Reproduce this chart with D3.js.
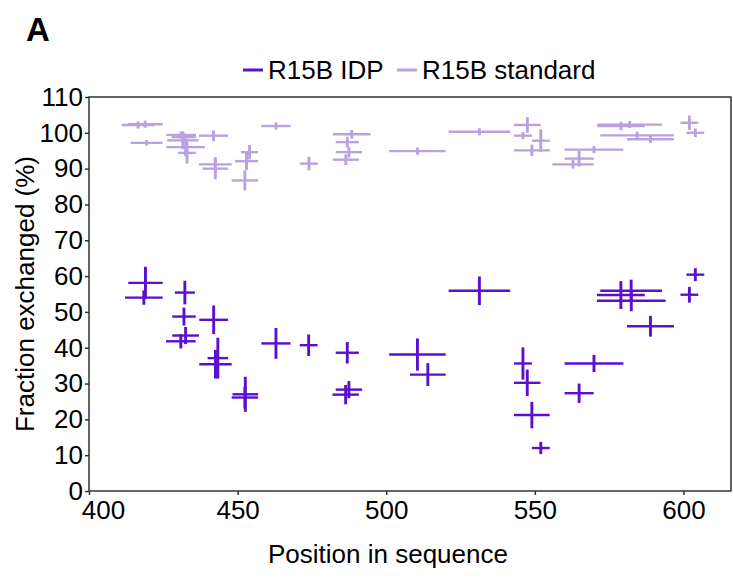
<!DOCTYPE html>
<html lang="en">
	<head>
		<meta charset="utf-8">
		<title>R15B exchange</title>
		<script type="text/javascript" src="https://cdn.jsdelivr.net/npm/d3@7"></script>
		<style type="text/css">
			body { margin: 0; background: #fff; }
			svg { font-family: "Liberation Sans", Arial, sans-serif; }
			.axis path, .axis line { stroke: #333; stroke-width: 1.5; }
			.axis text { font-size: 26px; fill: #000; }
		</style>
	</head>
	<body>
		<script type="text/javascript">

			//Width and height
			let w = 733;
			let h = 580;
			let margin = {top: 97, right: 2, bottom: 89, left: 89};

			//Peptide ranges (start / end residue), fraction exchanged and its error
			let idpStart    = [413.2, 412.1, 428.9, 428.0, 437.1, 428.0, 425.9, 439.9, 437.1, 458.0, 470.9, 483.0, 483.0, 481.9, 448.3, 448.0, 521.0, 501.0, 508.0, 543.0, 543.0, 543.0, 549.0, 560.0, 560.0, 581.0, 572.0, 570.9, 570.9, 601.0, 599.0];
			let idpEnd      = [424.8, 424.8, 435.6, 435.9, 446.8, 437.0, 435.9, 446.8, 448.0, 467.8, 476.9, 490.8, 491.9, 490.8, 456.9, 456.9, 541.7, 520.0, 520.0, 549.0, 551.9, 555.0, 555.0, 579.8, 569.8, 596.8, 592.8, 587.0, 594.0, 607.0, 605.0];
			let idpFraction = [58.1, 54.0, 55.4, 48.7, 47.8, 43.4, 41.8, 37.1, 35.4, 41.2, 40.7, 38.6, 28.3, 26.9, 27.0, 26.1, 55.9, 38.1, 32.5, 35.6, 30.2, 21.2, 12.0, 35.6, 27.3, 46.0, 55.9, 54.7, 53.1, 60.4, 54.8];
			let idpError    = [4.5, 2.0, 3.3, 2.5, 4.0, 2.4, 2.0, 5.7, 4.0, 4.3, 3.0, 3.0, 2.4, 2.7, 4.9, 3.0, 4.0, 4.5, 3.2, 4.5, 3.7, 3.7, 1.7, 2.4, 2.7, 2.9, 3.1, 3.9, 2.9, 1.8, 2.2];

			let stdStart    = [411.0, 413.0, 414.0, 426.0, 427.8, 426.3, 426.0, 430.0, 437.0, 437.0, 438.2, 451.1, 449.1, 448.0, 458.0, 471.0, 482.1, 483.0, 483.0, 482.0, 501.0, 521.0, 543.0, 543.0, 549.0, 543.0, 560.0, 560.0, 555.9, 571.0, 571.0, 572.0, 581.0, 599.0, 601.0];
			let stdEnd      = [422.0, 424.8, 424.8, 436.0, 436.0, 436.8, 439.0, 436.0, 446.8, 448.0, 446.8, 456.9, 456.9, 456.9, 467.8, 477.0, 494.7, 490.8, 491.9, 490.8, 520.0, 541.7, 552.0, 549.0, 555.0, 555.0, 579.8, 569.8, 569.8, 592.8, 587.0, 596.8, 596.8, 605.0, 607.0];
			let stdFraction = [102.2, 102.4, 97.2, 99.4, 98.8, 97.9, 96.0, 94.4, 99.2, 91.2, 90.0, 94.6, 92.1, 86.7, 101.9, 91.4, 99.6, 97.4, 94.6, 92.5, 94.9, 100.3, 102.2, 99.2, 97.8, 95.1, 95.3, 92.8, 91.2, 102.3, 101.9, 99.3, 98.2, 102.8, 100.0];
			let stdError    = [1.0, 1.0, 0.8, 1.0, 1.0, 2.5, 2.5, 3.0, 1.5, 2.0, 3.0, 2.0, 2.5, 2.8, 1.0, 1.9, 1.2, 1.5, 1.5, 1.5, 1.0, 1.0, 2.2, 1.0, 3.2, 1.6, 1.0, 2.2, 1.2, 1.0, 1.2, 1.0, 1.0, 2.0, 1.2];

			let xTicks = [400, 450, 500, 550, 600];
			let yTicks = [0, 10, 20, 30, 40, 50, 60, 70, 80, 90, 100, 110];

			let idpColor = "#5b0fcf";
			let stdColor = "#b9a2e0";

			//Build row objects for each series
			let makeRows = (s, e, f, err)=> s.map((d, i)=> {
				return { start: d, end: e[i], value: f[i], error: err[i] };
			});
			let idpRows = makeRows(idpStart, idpEnd, idpFraction, idpError);
			let stdRows = makeRows(stdStart, stdEnd, stdFraction, stdError);

			let xScale = d3.scaleLinear()
				.domain([400, 616])
				.range([margin.left, w - margin.right]);

			let yScale = d3.scaleLinear()
				.domain([0, 110])
				.range([h - margin.bottom, margin.top]);

			//Create SVG element
			let svg = d3.select("body")
						.append("svg")
						.attr("width", w)
						.attr("height", h);

			//Panel letter
			svg.append("text")
				.attr("x", 26)
				.attr("y", 41)
				.style("font-size", "33px")
				.style("font-weight", "bold")
				.text("A");

			//Crosses: horizontal bar = peptide span, vertical bar = error
			let drawSeries = (rows, color)=> {
				let g = svg.append("g");
				g.selectAll("line.hbar")
					.data(rows)
					.enter()
					.append("line")
					.attr("class", "hbar")
					.attr("stroke", color)
					.attr("stroke-width", 2.4)
					.attr("x1", (d)=> xScale(d.start))
					.attr("x2", (d)=> xScale(d.end))
					.attr("y1", (d)=> yScale(d.value))
					.attr("y2", (d)=> yScale(d.value));
				g.selectAll("line.vbar")
					.data(rows)
					.enter()
					.append("line")
					.attr("class", "vbar")
					.attr("stroke", color)
					.attr("stroke-width", 2.9)
					.attr("x1", (d)=> xScale((d.start + d.end) / 2))
					.attr("x2", (d)=> xScale((d.start + d.end) / 2))
					.attr("y1", (d)=> yScale(d.value - d.error))
					.attr("y2", (d)=> yScale(d.value + d.error));
			};
			drawSeries(stdRows, stdColor);
			drawSeries(idpRows, idpColor);

			//Frame
			svg.append("rect")
				.attr("x", margin.left)
				.attr("y", margin.top)
				.attr("width", w - margin.left - margin.right)
				.attr("height", h - margin.top - margin.bottom)
				.attr("fill", "none")
				.attr("stroke", "#333")
				.attr("stroke-width", 1.5);

			//Axes
			let xAxis = d3.axisBottom(xScale)
				.tickValues(xTicks)
				.tickSize(4)
				.tickPadding(6)
				.tickSizeOuter(0);
			let gx = svg.append("g")
				.attr("class", "axis")
				.attr("transform", "translate(0," + (h - margin.bottom) + ")")
				.call(xAxis);
			gx.select(".domain").remove();
			gx.selectAll(".tick text")
				.filter((d)=> d === 400)
				.attr("dx", 14);

			let yAxis = d3.axisLeft(yScale)
				.tickValues(yTicks)
				.tickSize(4)
				.tickPadding(2)
				.tickSizeOuter(0);
			let gy = svg.append("g")
				.attr("class", "axis")
				.attr("transform", "translate(" + margin.left + ",0)")
				.call(yAxis);
			gy.select(".domain").remove();

			//Axis labels
			svg.append("text")
				.attr("x", 388)
				.attr("y", 563)
				.style("text-anchor", "middle")
				.style("font-size", "26px")
				.text("Position in sequence");

			svg.append("text")
				.attr("transform", "translate(34," + ((margin.top + h - margin.bottom) / 2) + ") rotate(-90)")
				.style("text-anchor", "middle")
				.style("font-size", "26px")
				.text("Fraction exchanged (%)");

			//Legend
			let legend = [
				{ name: "R15B IDP", color: idpColor, x: 243 },
				{ name: "R15B standard", color: stdColor, x: 397 }
			];
			let lg = svg.selectAll("g.legend")
				.data(legend)
				.enter()
				.append("g")
				.attr("class", "legend")
				.attr("transform", (d)=> "translate(" + d.x + ",70)");
			lg.append("line")
				.attr("x1", 0)
				.attr("x2", 20)
				.attr("stroke", (d)=> d.color)
				.attr("stroke-width", 3);
			lg.append("text")
				.attr("x", 25)
				.attr("y", 9)
				.style("font-size", "26px")
				.text((d)=> d.name);

		</script>
	</body>
</html>
